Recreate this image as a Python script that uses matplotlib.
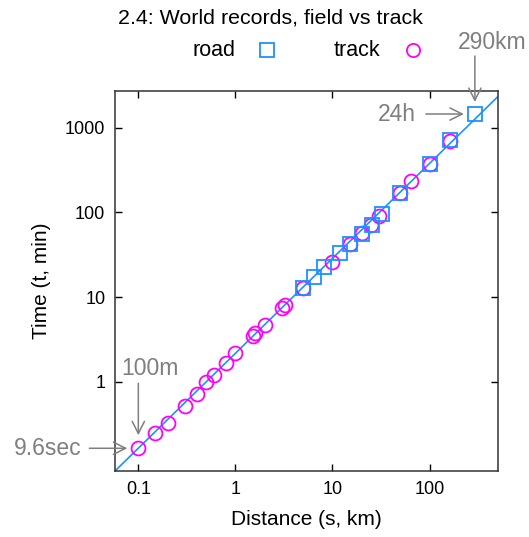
import matplotlib
matplotlib.use('Agg')
import matplotlib.pyplot as plt
from matplotlib.lines import Line2D
import numpy as np

plt.rcParams['font.family'] = ['Liberation Sans', 'DejaVu Sans']

# track records: distance (km), time (min)
track_km = [0.1, 0.15, 0.2, 0.3, 0.4, 0.5, 0.6, 0.8, 1.0, 1.5, 1.609, 2.0,
            3.0, 3.219, 5.0, 10.0, 15.0, 20.0, 25.0, 30.0, 50.0, 64.5, 100.0, 161.0]
track_min = [0.165, 0.25, 0.328, 0.52, 0.73, 1.0, 1.22, 1.69, 2.2, 3.45, 3.75, 4.75,
             7.4, 8.05, 12.8, 26.3, 43.0, 57.0, 72.0, 90.0, 170.0, 232.0, 375.0, 705.0]

# road records
road_km = [5.0, 6.4, 8.1, 12.0, 15.2, 20.0, 25.8, 32.3, 50.0, 100.0, 162.0, 293.0]
road_min = [12.8, 17.1, 22.5, 33.4, 42.5, 55.0, 71.0, 95.0, 170.0, 375.0, 708.0, 1450.0]

# fitted power law t = a * s^b
fit_a = 2.18
fit_b = 1.12

xlim = (0.0575, 507)
ylim = (0.089, 2710)

blue = '#1e90ff'
magenta = '#ff00ff'
gray = '#7f7f7f'

fig = plt.figure(figsize=(5.29, 5.37), dpi=100)
ax = fig.add_axes([115/529, 1-471/537, (498-115)/529, (471-91)/537])

xs = np.logspace(np.log10(xlim[0]), np.log10(xlim[1]), 100)
ax.plot(xs, fit_a * xs**fit_b, color=blue, lw=1.2, zorder=1)

ax.plot(road_km, road_min, 's', mfc='none', mec=blue, mew=1.3, ms=10, zorder=3)
ax.plot(track_km, track_min, 'o', mfc='none', mec=magenta, mew=1.3, ms=10, zorder=2)

ax.set_xscale('log')
ax.set_yscale('log')
ax.set_xlim(*xlim)
ax.set_ylim(*ylim)
ax.set_xticks([0.1, 1, 10, 100])
ax.set_xticklabels(['0.1', '1', '10', '100'])
ax.set_yticks([1, 10, 100, 1000])
ax.set_yticklabels(['1', '10', '100', '1000'])
ax.minorticks_off()
ax.tick_params(direction='in', length=5, width=1, top=True, right=True,
               labelsize=13, pad=7)
for s in ax.spines.values():
    s.set_linewidth(1.1)
    s.set_color('#333333')

ax.set_xlabel('Distance (s, km)', fontsize=15, labelpad=9)
ax.set_ylabel('Time (t, min)', fontsize=15, labelpad=10)

fig.text(270/529, 1-18/537, '2.4: World records, field vs track', fontsize=15.4,
         ha='center', va='center')

# legend, drawn by hand like gnuplot's key
ly = 1-50/537
fig.text(235/529, ly, 'road', ha='right', va='center', fontsize=15.5)
fig.add_artist(Line2D([267/529], [ly], marker='s', mfc='none', mec=blue, mew=1.3, ms=9.5))
fig.text(380/529, ly, 'track', ha='right', va='center', fontsize=15.5)
fig.add_artist(Line2D([412.5/529], [ly], marker='o', mfc='none', mec=magenta, mew=1.3, ms=9.5))

arr = dict(arrowstyle='->', color=gray, lw=1.1, mutation_scale=22, shrinkA=0)

def note(pt, tail, text, toff, ha, shrink):
    ax.annotate('', xy=pt, xytext=tail, textcoords='offset pixels',
                arrowprops=dict(arr, shrinkB=shrink * 0.72))
    ax.annotate(text, xy=pt, xytext=toff, textcoords='offset pixels',
                ha=ha, va='center', fontsize=16.5, color=gray)

note((293, 1450), (0, 58), '290km', (17, 72), 'center', 12)
note((293, 1450), (-49, 0), '24h', (-59, 0), 'right', 11)
note((0.1, 0.165), (0, 65), '100m', (12, 80), 'center', 13)
note((0.1, 0.165), (-49, 0), '9.6sec', (-57, 0), 'right', 11)

fig.savefig('out.png', dpi=100)
